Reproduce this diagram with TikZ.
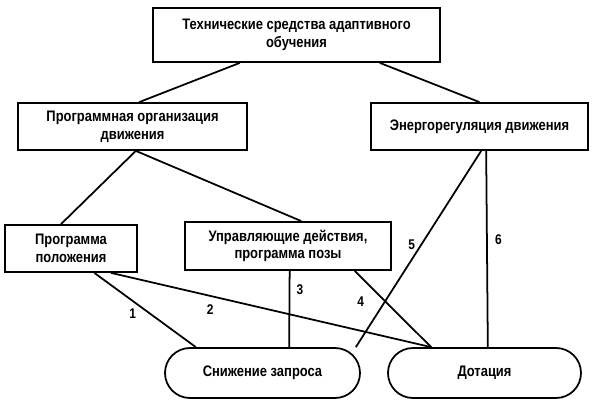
\documentclass[tikz,border=0pt]{standalone}
\usepackage{fontspec}
\setmainfont[FakeStretch=0.85]{Liberation Sans}
\usetikzlibrary{positioning,calc}

\tikzset{
  box/.style={draw,line width=1.5pt,rectangle,align=center,inner sep=2pt,font=\bfseries\fontsize{13}{15}\selectfont},
  oval/.style={box,rounded corners=0.75cm,minimum height=1.5cm},
  link/.style={line width=1.5pt},
  num/.style={font=\bfseries\fontsize{12}{14}\selectfont}
}

\begin{document}
\begin{tikzpicture}[x=0.03cm,y=-0.03cm]
  \useasboundingbox (0,0) rectangle (606,411);

  \node[box,minimum width=8.61cm,minimum height=1.62cm] (top) at (296.5,35) {Технические средства адаптивного\\обучения};
  \node[box,minimum width=6.87cm,minimum height=1.41cm] (prog) at (132.5,126.5) {Программная организация\\движения};
  \node[box,minimum width=6.51cm,minimum height=1.41cm] (energy) at (479.5,126.5) {Энергорегуляция движения};
  \node[box,minimum width=3.96cm,minimum height=1.41cm] (pos) at (71,248.5) {Программа\\положения};
  \node[box,minimum width=6.18cm,minimum height=1.44cm] (ctrl) at (288,246) {Управляющие действия,\\программа позы};
  \node[oval,minimum width=5.85cm] (reduce) at (262.5,373) {Снижение запроса};
  \node[oval,minimum width=5.79cm] (dot) at (484.5,373) {Дотация};

  \draw[link] ([xshift=-1.7cm]top.south) -- ([xshift=0.2cm]prog.north);
  \draw[link] ([xshift=2.5cm]top.south) -- (energy.north);

  \draw[link] ([xshift=0.1cm]prog.south) -- ([xshift=-0.3cm]pos.north);
  \draw[link] ([xshift=0.1cm]prog.south) -- ([xshift=0.4cm]ctrl.north);

  % numbered links
  \draw[link] ([xshift=0.7cm]pos.south) -- node[num,left=8pt,pos=0.55] {1} ([xshift=-2cm]reduce.north);
  \draw[link] ([xshift=1.2cm]pos.south) -- node[num,below left=1pt and 4pt,pos=0.35] {2} ([xshift=-1.6cm]dot.north);
  \draw[link] ([xshift=0.05cm]ctrl.south) -- node[num,right=2pt,pos=0.25] {3} ([xshift=0.8cm]reduce.north);
  \draw[link] ([xshift=2cm]ctrl.south) -- node[num,left=14pt,pos=0.4] {4} ([xshift=-1.6cm]dot.north);
  \draw[link] ([xshift=0.05cm]energy.south) -- node[num,left=1pt,pos=0.48] {5} ([xshift=2.8cm]reduce.north);
  \draw[link] ([xshift=0.2cm]energy.south) -- node[num,right=3pt,pos=0.45] {6} ([xshift=0.1cm]dot.north);
\end{tikzpicture}
\end{document}
